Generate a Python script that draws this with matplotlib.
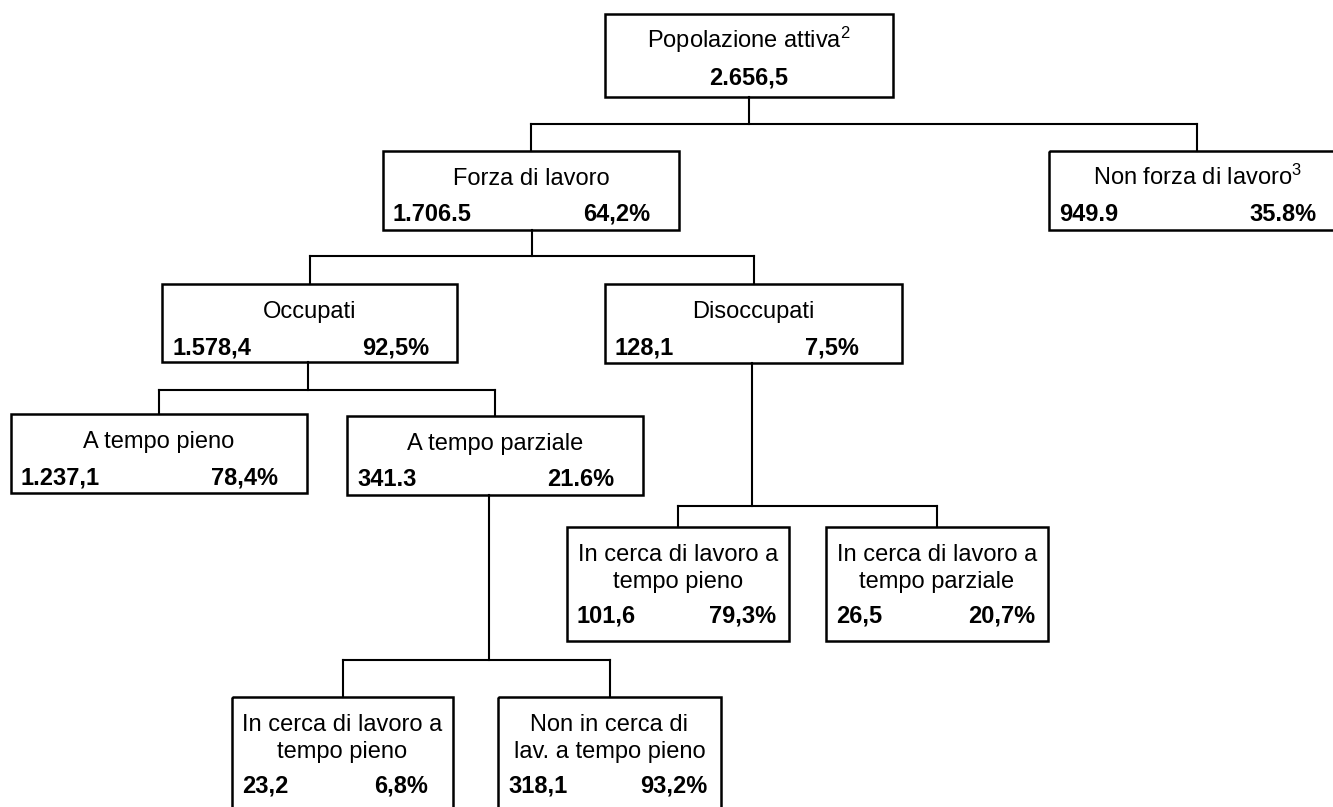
import matplotlib
matplotlib.use('Agg')
import matplotlib.pyplot as plt
from matplotlib.patches import Rectangle

plt.rcParams['font.family'] = ['Liberation Sans', 'DejaVu Sans']
plt.rcParams['mathtext.default'] = 'regular'

# dati del diagramma (migliaia di persone)
voci = ['Popolazione attiva$^2$', 'Forza di lavoro', 'Non forza di lavoro$^3$',
        'Occupati', 'Disoccupati', 'A tempo pieno', 'A tempo parziale',
        'In cerca di lavoro a\ntempo pieno', 'In cerca di lavoro a\ntempo parziale',
        'In cerca di lavoro a\ntempo pieno', 'Non in cerca di\nlav. a tempo pieno']
valori = ['2.656,5', '1.706.5', '949.9', '1.578,4', '128,1', '1.237,1', '341.3',
          '101,6', '26,5', '23,2', '318,1']
quote = [None, '64,2%', '35.8%', '92,5%', '7,5%', '78,4%', '21.6%',
         '79,3%', '20,7%', '6,8%', '93,2%']
padre = [None, 0, 0, 1, 1, 3, 3, 4, 4, 6, 6]

# disposizione dei riquadri in pixel: (sinistra, alto, destra, basso)
riquadri = [(605, 14, 893, 97), (383, 151, 679, 230), (1049, 151, 1345, 230),
            (162, 284, 457, 362), (605, 284, 902, 363), (11, 414, 307, 493),
            (347, 416, 643, 495), (567, 527, 789, 641), (826, 527, 1048, 641),
            (232, 697, 453, 811), (498, 697, 721, 811)]
# x del tratto verticale in uscita e y della linea orizzontale per ogni padre
gambo = {0: (749, 124), 1: (532, 256), 3: (308, 390), 4: (752, 506), 6: (489, 660)}

FS = 17
LW = 1.5


def disegna_riquadro(ax, i):
    """Disegna il riquadro i con titolo, valore e quota."""
    x0, y0, x1, y1 = riquadri[i]
    ax.add_patch(Rectangle((x0, y0), x1 - x0, y1 - y0, fill=False,
                           edgecolor='black', linewidth=LW + 0.3))
    righe = voci[i].split('\n')
    cx = (x0 + x1) / 2
    for k, riga in enumerate(righe):
        ax.text(cx, y0 + 34 + 27 * k, riga, ha='center', va='baseline',
                fontsize=FS)
    yb = y0 + 70 if len(righe) == 1 else y0 + 96
    if quote[i] is None:
        ax.text(cx, y0 + 71, valori[i], ha='center', va='baseline',
                fontsize=FS, fontweight='bold')
        return
    ax.text(x0 + 10, yb, valori[i], ha='left', va='baseline',
            fontsize=FS, fontweight='bold')
    passo = 200 if (x1 - x0) > 260 else 142
    ax.text(x0 + passo, yb, quote[i], ha='left', va='baseline',
            fontsize=FS, fontweight='bold')


def disegna_collegamenti(ax):
    """Linee a gomito fra ogni padre e i suoi figli."""
    for p, (gx, gy) in gambo.items():
        figli = [i for i in range(len(padre)) if padre[i] == p]
        ax.plot([gx, gx], [riquadri[p][3], gy], color='black', lw=LW)
        xs = [(riquadri[f][0] + riquadri[f][2]) / 2 for f in figli]
        ax.plot([min(xs), max(xs)], [gy, gy], color='black', lw=LW)
        for f, fx in zip(figli, xs):
            ax.plot([fx, fx], [gy, riquadri[f][1]], color='black', lw=LW)


fig = plt.figure(figsize=(13.33, 8.07), dpi=100)
ax = fig.add_axes([0, 0, 1, 1])
ax.set_xlim(0, 1333)
ax.set_ylim(807, 0)
ax.axis('off')

disegna_collegamenti(ax)
for i in range(len(voci)):
    disegna_riquadro(ax, i)

fig.savefig('out.png', dpi=100)
